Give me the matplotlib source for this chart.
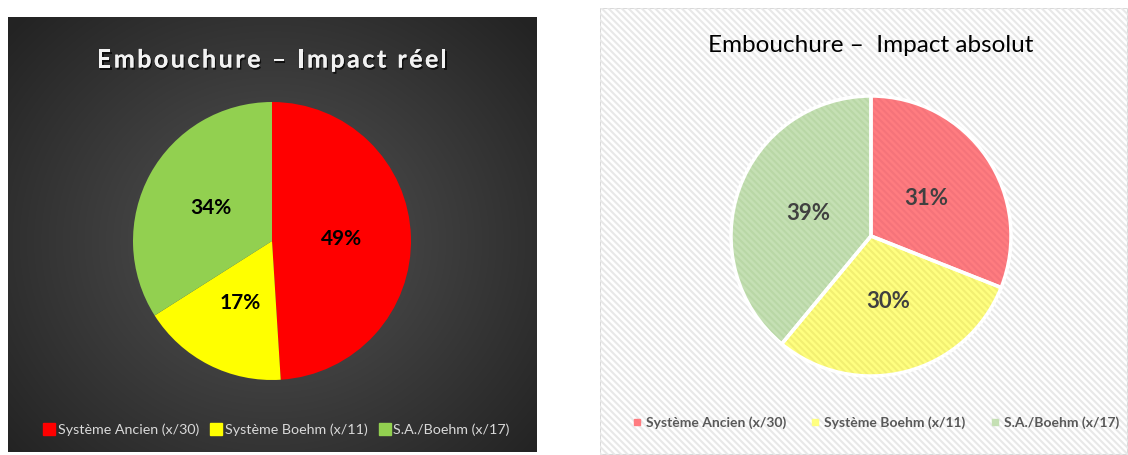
import numpy as np
import matplotlib.pyplot as plt
import matplotlib.patheffects as pe
from matplotlib.patches import Rectangle
from matplotlib.lines import Line2D

plt.rcParams['font.family'] = ['Lato', 'DejaVu Sans']
plt.rcParams['hatch.linewidth'] = 1.5

# data
categories = ['Système Ancien (x/30)', 'Système Boehm (x/11)', 'S.A./Boehm (x/17)']
reel = [49, 17, 34]
absolu = [31, 30, 39]
title_reel = 'Embouchure – Impact réel'
title_abs = 'Embouchure –  Impact absolut'

W, H = 1128, 455
fig = plt.figure(figsize=(W / 100, H / 100), dpi=100)


def fax(x0, y0, x1, y1, **kw):
    # pixel box, origin top-left
    return fig.add_axes([x0 / W, 1 - y1 / H, (x1 - x0) / W, (y1 - y0) / H], **kw)


# ---- left panel: dark radial gradient
bg = fax(8, 17, 537, 452)
yy, xx = np.mgrid[0:435, 0:529]
d = np.sqrt(((xx - 264) / 330.0) ** 2 + ((yy - 224) / 300.0) ** 2)
lum = np.clip(0.33 - 0.18 * d, 0.14, 0.33)
bg.imshow(np.dstack([lum, lum, lum]), aspect='auto', extent=(0, 1, 0, 1))
bg.axis('off')

left_colors = ['#ff0000', '#ffff00', '#92d050']
ax1 = fax(272 - 139, 241 - 139, 272 + 139, 241 + 139)
ax1.pie(reel, colors=left_colors, startangle=90, counterclock=False,
        autopct='%.0f%%', pctdistance=0.5,
        wedgeprops={'linewidth': 0},
        textprops={'fontsize': 15, 'fontweight': 'bold', 'color': 'black'})
ax1.set_xlim(-1, 1)
ax1.set_ylim(-1, 1)
ax1.axis('off')

# spaced title, drawn letter by letter
renderer = fig.canvas.get_renderer()
tprops = dict(fontsize=18, fontweight='bold', color='#f2f2f2')


def text_w(s):
    t = fig.text(0, 0, s + '|', **tprops)
    w = t.get_window_extent(renderer).width
    t.remove()
    return w


bar_w = text_w('')
adv = [text_w(c) - bar_w for c in title_reel]
target = 350
gap = (target - sum(adv)) / (len(title_reel) - 1)
x = 272 - target / 2
for c, a in zip(title_reel, adv):
    fig.text(x / W, 1 - 60 / H, c, ha='left', va='center', **tprops,
             path_effects=[pe.withSimplePatchShadow(offset=(1, -1.5), shadow_rgbFace='black', alpha=0.7),
                           pe.Normal()])
    x += a + gap

h1 = [Line2D([], [], marker='s', ls='', color=c, markersize=8) for c in left_colors]
fig.legend(h1, categories, ncol=3, loc='center', bbox_to_anchor=(276 / W, 1 - 430 / H),
           frameon=False, fontsize=10.3, labelcolor='#d9d9d9', handletextpad=0.1,
           columnspacing=0.7, handlelength=1.0)

# ---- right panel: hatched white background
bg2 = fax(600, 8, 1128, 455)
bg2.add_patch(Rectangle((0, 0), 1, 1, transform=bg2.transAxes, facecolor='white',
                        edgecolor='#d9d9d9', lw=1.5))
bg2.add_patch(Rectangle((0, 0), 1, 1, transform=bg2.transAxes, facecolor='none',
                        edgecolor='#e8e8e8', hatch='\\\\\\\\\\', lw=0))
bg2.axis('off')

right_colors = ['#ff7c80', '#ffff80', '#c5e0b4']
stripe_colors = ['#f5737a', '#f2ef72', '#b9d7a6']
ax2 = fax(871 - 140, 236 - 140, 871 + 140, 236 + 140)
wedges, _ = ax2.pie(absolu, colors=right_colors, startangle=90, counterclock=False,
                    wedgeprops={'linewidth': 0})
for w, sc in zip(wedges, stripe_colors):
    w.set_hatch('\\\\\\\\\\')
    w.set_edgecolor(sc)
ax2.pie(absolu, startangle=90, counterclock=False, autopct='%.0f%%', pctdistance=0.48,
        wedgeprops={'facecolor': 'none', 'edgecolor': 'white', 'linewidth': 2.5},
        textprops={'fontsize': 16, 'fontweight': 'bold', 'color': '#404040'})
ax2.set_xlim(-1, 1)
ax2.set_ylim(-1, 1)
ax2.axis('off')

fig.text(871 / W, 1 - 45 / H, title_abs, ha='center', va='center', fontsize=17.5, color='black')

h2 = [Line2D([], [], marker='s', ls='', color=c, markersize=4.5) for c in right_colors]
fig.legend(h2, categories, ncol=3, loc='center', bbox_to_anchor=(875 / W, 1 - 423 / H),
           frameon=False, labelcolor='#595959', handletextpad=0.25,
           columnspacing=1.7, handlelength=0.8, prop={'weight': 'bold', 'size': 10})

fig.savefig('out.png', dpi=100)
